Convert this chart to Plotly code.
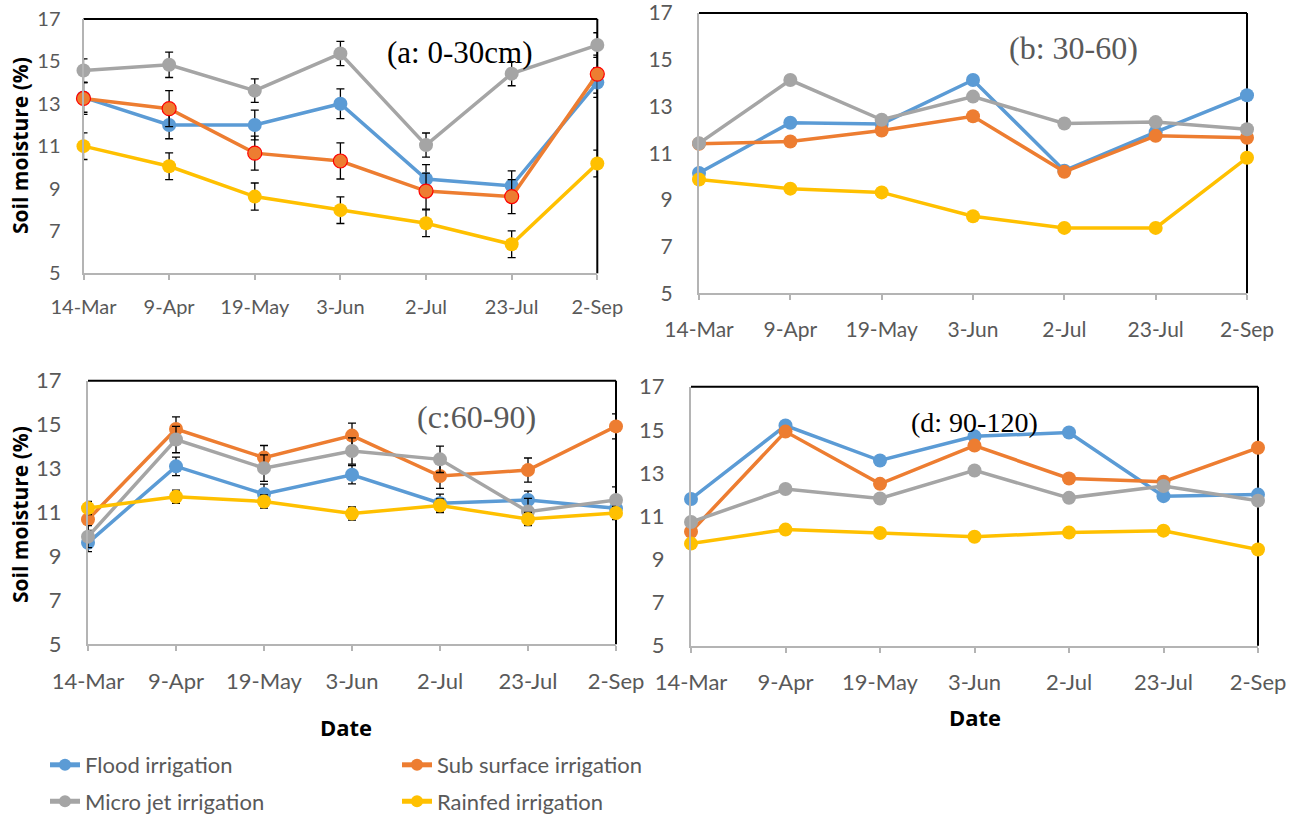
import plotly.graph_objects as go

dates = ["14-Mar", "9-Apr", "19-May", "3-Jun", "2-Jul", "23-Jul", "2-Sep"]
names = ["Flood irrigation", "Sub surface irrigation", "Micro jet irrigation", "Rainfed irrigation"]
y_ticks = [5, 7, 9, 11, 13, 15, 17]

# Panel (a) 0-30 cm
a_flood = [13.3, 12.0, 12.0, 13.0, 9.45, 9.13, 14.0]
a_sub = [13.25, 12.77, 10.67, 10.3, 8.88, 8.62, 14.4]
a_micro = [14.57, 14.84, 13.62, 15.37, 11.05, 14.42, 15.77]
a_rain = [11.0, 10.05, 8.62, 7.98, 7.36, 6.37, 10.18]
a_flood_err = [0.7, 0.65, 0.7, 0.7, 0.68, 0.7, 0.7]
a_sub_err = [0.75, 0.85, 0.8, 0.85, 0.85, 0.8, 0.9]
a_micro_err = [0.55, 0.6, 0.55, 0.57, 0.57, 0.57, 0.58]
a_rain_err = [0.63, 0.63, 0.64, 0.63, 0.63, 0.63, 0.63]

# Panel (b) 30-60 cm
b_flood = [10.15, 12.3, 12.25, 14.13, 10.25, 11.9, 13.48]
b_sub = [11.4, 11.5, 11.97, 12.58, 10.2, 11.74, 11.66]
b_micro = [11.42, 14.13, 12.43, 13.42, 12.27, 12.33, 12.02]
b_rain = [9.87, 9.48, 9.32, 8.3, 7.8, 7.8, 10.8]

# Panel (c) 60-90 cm
c_flood = [9.62, 13.1, 11.84, 12.72, 11.42, 11.57, 11.19]
c_sub = [10.68, 14.8, 13.5, 14.5, 12.66, 12.93, 14.92]
c_micro = [9.9, 14.32, 13.02, 13.8, 13.42, 11.04, 11.57]
c_rain = [11.2, 11.72, 11.5, 10.95, 11.32, 10.7, 10.98]
c_flood_err = [0.4, 0.42, 0.45, 0.42, 0.42, 0.4, 0.4]
c_sub_err = [0.5, 0.55, 0.55, 0.57, 0.56, 0.55, 0.57]
c_micro_err = [0.5, 0.6, 0.6, 0.6, 0.6, 0.6, 0.6]
c_rain_err = [0.3, 0.3, 0.3, 0.3, 0.3, 0.3, 0.3]

# Panel (d) 90-120 cm
d_flood = [11.8, 15.2, 13.58, 14.7, 14.88, 11.93, 12.0]
d_sub = [10.28, 14.92, 12.5, 14.27, 12.75, 12.6, 14.17]
d_micro = [10.73, 12.26, 11.82, 13.12, 11.85, 12.4, 11.72]
d_rain = [9.73, 10.38, 10.22, 10.05, 10.24, 10.33, 9.46]

colors = ["#5B9BD5", "#ED7D31", "#A5A5A5", "#FFC000"]

W, H = 1296, 816
panels = [
    dict(vals=[a_flood, a_sub, a_micro, a_rain],
         errs=[a_flood_err, a_sub_err, a_micro_err, a_rain_err],
         x=(83.5, 597.3), y=(19, 273.3), label="(a: 0-30cm)", lpos=(459, 53), lsize=31,
         lcol="#000000", redline=True, tsize=20, xstand=10, ystand=17),
    dict(vals=[b_flood, b_sub, b_micro, b_rain], errs=None,
         x=(699, 1247), y=(13, 293.3), label="(b: 30-60)", lpos=(1073, 48), lsize=32,
         lcol="#595959", redline=False, tsize=21, xstand=11, ystand=20),
    dict(vals=[c_flood, c_sub, c_micro, c_rain],
         errs=[c_flood_err, c_sub_err, c_micro_err, c_rain_err],
         x=(88, 616), y=(380.7, 644.3), label="(c:60-90)", lpos=(476, 417), lsize=32,
         lcol="#595959", redline=False, tsize=22, xstand=11, ystand=20),
    dict(vals=[d_flood, d_sub, d_micro, d_rain], errs=None,
         x=(691, 1258), y=(386.7, 645.7), label="(d: 90-120)", lpos=(974, 422), lsize=28,
         lcol="#000000", redline=False, tsize=22, xstand=11, ystand=20),
]

fig = go.Figure()
layout = {}
annotations = []
shapes = []
axis_gray = "#B4B4B4"

for i, p in enumerate(panels):
    n = "" if i == 0 else str(i + 1)
    xa, ya = "x" + n, "y" + n
    tick_font = dict(family="Lato, Open Sans, sans-serif", size=p["tsize"], color="#595959")
    for k in range(4):
        err = None
        if p["errs"] is not None:
            err = dict(type="data", array=p["errs"][k], visible=True,
                       color="#000000", thickness=1.3, width=4)
        mline = dict(width=1.2, color="#FF0000") if (p["redline"] and k == 1) else dict(width=0)
        fig.add_trace(go.Scatter(
            x=dates, y=p["vals"][k], mode="lines+markers", name=names[k],
            line=dict(color=colors[k], width=3.5),
            marker=dict(color=colors[k], size=14, line=mline),
            error_y=err, xaxis=xa, yaxis=ya, cliponaxis=False,
            showlegend=(i == 1),
            legend="legend" if k < 2 else "legend2",
        ))
    x0, x1 = p["x"][0] / W, p["x"][1] / W
    y0, y1 = 1 - p["y"][1] / H, 1 - p["y"][0] / H
    layout["xaxis" + n] = dict(
        domain=[x0, x1], anchor=ya, type="category", categoryorder="array",
        categoryarray=dates, range=[0, 6], showgrid=False, zeroline=False,
        showline=True, linecolor=axis_gray, linewidth=2,
        ticks="outside", ticklen=5, tickcolor=axis_gray, tickwidth=1.5,
        tickfont=tick_font, ticklabelstandoff=p["xstand"], automargin=False,
        ticklabeloverflow="allow", fixedrange=True)
    layout["yaxis" + n] = dict(
        domain=[y0, y1], anchor=xa, range=[5, 17], tickvals=y_ticks,
        showgrid=False, zeroline=False, showline=True, linecolor=axis_gray,
        linewidth=2, ticks="", tickfont=tick_font, ticklabelstandoff=p["ystand"],
        automargin=False, ticklabeloverflow="allow", fixedrange=True)
    shapes.append(dict(type="line", xref=xa + " domain", yref=ya + " domain",
                       x0=0, x1=1, y0=1, y1=1, line=dict(color="#000000", width=2), layer="below"))
    shapes.append(dict(type="line", xref=xa + " domain", yref=ya + " domain",
                       x0=1, x1=1, y0=0, y1=1, line=dict(color="#000000", width=2), layer="below"))
    annotations.append(dict(text=p["label"], x=p["lpos"][0] / W, y=1 - p["lpos"][1] / H,
                            xref="paper", yref="paper", showarrow=False,
                            xanchor="center", yanchor="middle",
                            font=dict(family="Liberation Serif, Times New Roman, serif",
                                      size=p["lsize"], color=p["lcol"])))

title_font = dict(family="Open Sans, Lato, sans-serif", size=21, color="#000000")
for yc in (146, 515):
    annotations.append(dict(text="<b>Soil moisture (%)</b>", x=20 / W, y=1 - yc / H,
                            xref="paper", yref="paper", showarrow=False, textangle=-90,
                            xanchor="center", yanchor="middle", font=title_font))
for (xc, yc) in ((346, 727), (975, 717)):
    annotations.append(dict(text="<b>Date</b>", x=xc / W, y=1 - yc / H,
                            xref="paper", yref="paper", showarrow=False,
                            xanchor="center", yanchor="middle",
                            font=dict(title_font, size=22)))

legend_font = dict(family="Lato, Open Sans, sans-serif", size=22, color="#595959")
leg = dict(orientation="h", x=45 / W, xanchor="left", yanchor="middle",
           entrywidth=307, entrywidthmode="pixels", font=legend_font,
           bgcolor="rgba(0,0,0,0)", itemsizing="constant", tracegroupgap=0)
layout["legend"] = dict(leg, y=1 - 765 / H)
layout["legend2"] = dict(leg, y=1 - 801.5 / H)

fig.update_layout(width=W, height=H, margin=dict(l=0, r=0, t=0, b=0, autoexpand=False),
                  paper_bgcolor="#FFFFFF", plot_bgcolor="#FFFFFF",
                  annotations=annotations, shapes=shapes, **layout)
fig.write_html("out.html", config={"displayModeBar": False},
               post_script="document.body.style.margin='0px';document.body.style.padding='0px';")
